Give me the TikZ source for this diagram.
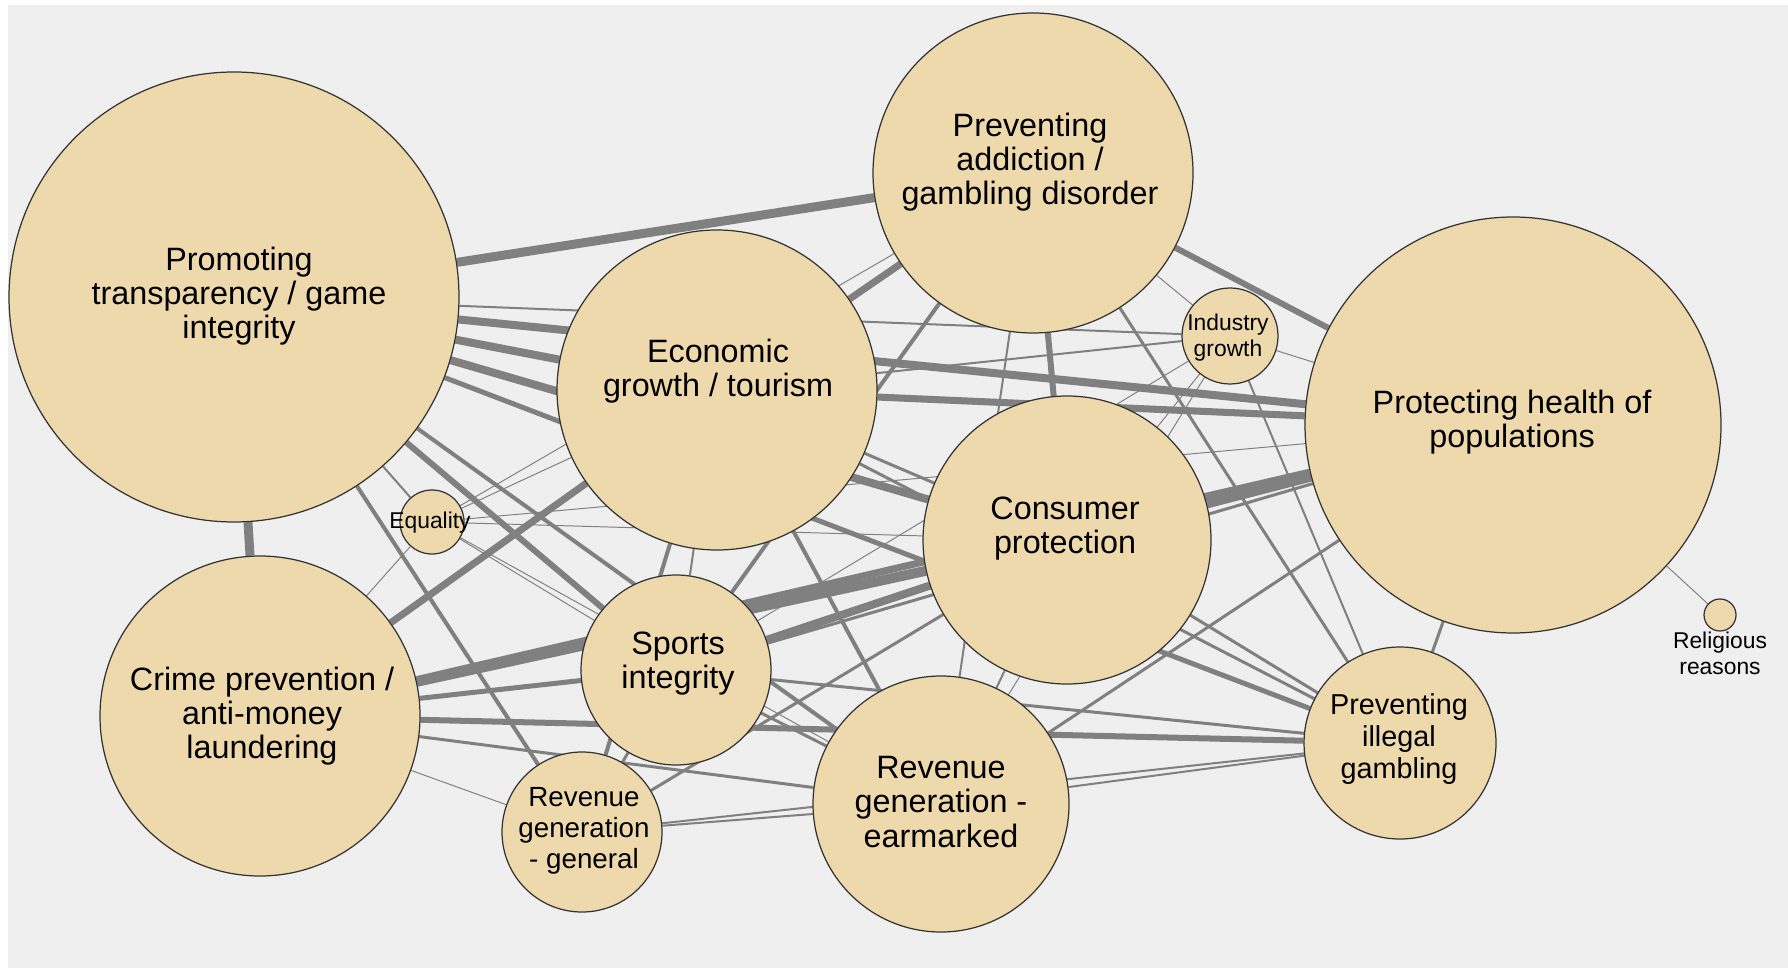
\documentclass[tikz,border=0pt]{standalone}
\usepackage{fontspec}
\setmainfont{Liberation Sans}

\definecolor{topicfill}{RGB}{238,217,172}
\definecolor{linkgray}{RGB}{128,128,128}
\definecolor{canvas}{RGB}{239,239,239}

\pgfdeclarelayer{back}
\pgfdeclarelayer{links}
\pgfsetlayers{back,links,main}

\tikzset{
  topic/.style={circle, draw=black!80, fill=topicfill, line width=0.35pt, inner sep=0pt},
  lbl/.style={align=center, inner sep=0pt, font=\fontsize{9.2}{9.7}\selectfont},
  lblmid/.style={lbl, font=\fontsize{8.2}{9.1}\selectfont},
  lblsmall/.style={lbl, font=\fontsize{6.5}{7.4}\selectfont},
  w1/.style={line width=0.28pt},
  w2/.style={line width=0.57pt},
  w3/.style={line width=0.85pt},
  w4/.style={line width=1.14pt},
  w5/.style={line width=1.42pt},
  w6/.style={line width=1.71pt},
  w7/.style={line width=2.0pt},
  w8/.style={line width=2.28pt},
  w9/.style={line width=2.56pt},
  w10/.style={line width=2.85pt}
}

\begin{document}
\begin{tikzpicture}

      \useasboundingbox (0,0) rectangle (17.88,-9.68);

      \begin{scope}[every node/.style={topic}]
        \node[minimum size=4.50cm] (pt) at (2.34,-2.97) {};
        \node[minimum size=3.20cm] (pa) at (10.33,-1.73) {};
        \node[minimum size=3.20cm] (eg) at (7.17,-3.90) {};
        \node[minimum size=0.96cm] (ig) at (12.30,-3.36) {};
        \node[minimum size=4.16cm] (ph) at (15.13,-4.25) {};
        \node[minimum size=0.64cm] (eq) at (4.32,-5.22) {};
        \node[minimum size=2.88cm] (cp) at (10.67,-5.40) {};
        \node[minimum size=3.20cm] (cr) at (2.60,-7.16) {};
        \node[minimum size=1.90cm] (si) at (6.76,-6.70) {};
        \node[minimum size=1.60cm] (rg) at (5.82,-8.32) {};
        \node[minimum size=2.56cm] (re) at (9.41,-8.04) {};
        \node[minimum size=1.92cm] (pi) at (14.00,-7.43) {};
        \node[minimum size=0.32cm] (rr) at (17.20,-6.15) {};
      \end{scope}

      \begin{scope}[every node/.style={lbl}]
        \node (ptl) at (2.39,-2.96) {Promoting\\transparency / game\\integrity};
        \node (pal) at (10.30,-1.62) {Preventing\\addiction /\\gambling disorder};
        \node (egl) at (7.18,-3.71) {Economic\\growth / tourism};
        \node (phl) at (15.12,-4.22) {Protecting health of\\populations};
        \node (cpl) at (10.65,-5.29) {Consumer\\protection};
        \node (crl) at (2.62,-7.16) {Crime prevention /\\anti-money\\laundering};
        \node (sil) at (6.78,-6.64) {Sports\\integrity};
        \node (rel) at (9.41,-8.02) {Revenue\\generation -\\earmarked};
        \node[lblmid] (pil) at (13.99,-7.39) {Preventing\\illegal\\gambling};
        \node[lblmid, font=\fontsize{7.9}{8.9}\selectfont] (rgl) at (5.84,-8.31) {Revenue\\generation\\- general};
        \node[lblsmall] (igl) at (12.28,-3.38) {Industry\\growth};
        \node[lblsmall] (eql) at (4.30,-5.23) {Equality};
        \node[lblsmall] (rrl) at (17.20,-6.53) {Religious\\reasons};
      \end{scope}

      \begin{pgfonlayer}{links}
        \begin{scope}[every edge/.style={draw=linkgray}]
          % promoting transparency
          \path (pt) edge[w9] (pa);
          \path (pt) edge[w9] (cr);
          \path (pt) edge[w2] (ig);
          \path (pt) edge[w8] (ph);
          \path (pt) edge[w8] (eg);
          \path (pt) edge[w8] (cp);
          \path (pt) edge[w5] (pi);
          \path (pt) edge[w6] (si);
          \path (pt) edge[w4] (re);
          \path (pt) edge[w4] (rg);
          \path (pt) edge[w2] (eq);
          % preventing addiction
          \path (pa) edge[w7] (eg);
          \path (pa) edge[w6] (ph);
          \path (pa) edge[w1] (ig);
          \path (pa) edge[w6] (cp);
          \path (pa) edge[w2] (re);
          \path (pa) edge[w3] (pi);
          \path (pa) edge[w4] (si);
          \path (pa) edge[w1] (eq);
          % economic growth
          \path (eg) edge[w7] (ph);
          \path (eg) edge[w2] (ig);
          \path (eg) edge[w3] (cp);
          \path (eg) edge[w2] (si);
          \path (eg) edge[w4] (re);
          \path (eg) edge[w7] (cr);
          \path (eg) edge[w4] (rg);
          \path (eg) edge[w3] (pi);
          \path (eg) edge[w1] (eq);
          % industry growth
          \path (ig) edge[w1] (ph);
          \path (ig) edge[w1] (cp);
          \path (ig) edge[w1] (si);
          \path (ig) edge[w1] (re);
          \path (ig) edge[w2] (pi);
          % protecting health
          \path (ph) edge[w9] (cp);
          \path (ph) edge[w3] (si);
          \path (ph) edge[w7] (cr);
          \path (ph) edge[w1] (eq);
          \path (ph) edge[w3] (pi);
          \path (ph) edge[w3] (re);
          \path (ph) edge[w1] (rr);
          % consumer protection
          \path (cp) edge[w10] (cr);
          \path (cp) edge[w8] (si);
          \path (cp) edge[w1] (eq);
          \path (cp) edge[w3] (pi);
          \path (cp) edge[w2] (re);
          \path (cp) edge[w3] (rg);
          % crime prevention
          \path (cr) edge[w1] (eq);
          \path (cr) edge[w5] (si);
          \path (cr) edge[w6] (pi);
          \path (cr) edge[w3] (re);
          \path (cr) edge[w1] (rg);
          % the rest
          \path (si) edge[w1] (eq);
          \path (si) edge[w3] (re);
          \path (si) edge[w3] (rg);
          \path (si) edge[w3] (pi);
          \path (rg) edge[w2] (re);
          \path (rg) edge[w2] (pi);
          \path (re) edge[w2] (pi);
          \path (re) edge[w1] (eq);
        \end{scope}
      \end{pgfonlayer}

      \begin{pgfonlayer}{back}
        \fill[white] (0,0) rectangle (17.88,-9.68);
        \fill[canvas] (0.08,-0.05) rectangle (17.88,-9.68);
      \end{pgfonlayer}

    \end{tikzpicture}
\end{document}
